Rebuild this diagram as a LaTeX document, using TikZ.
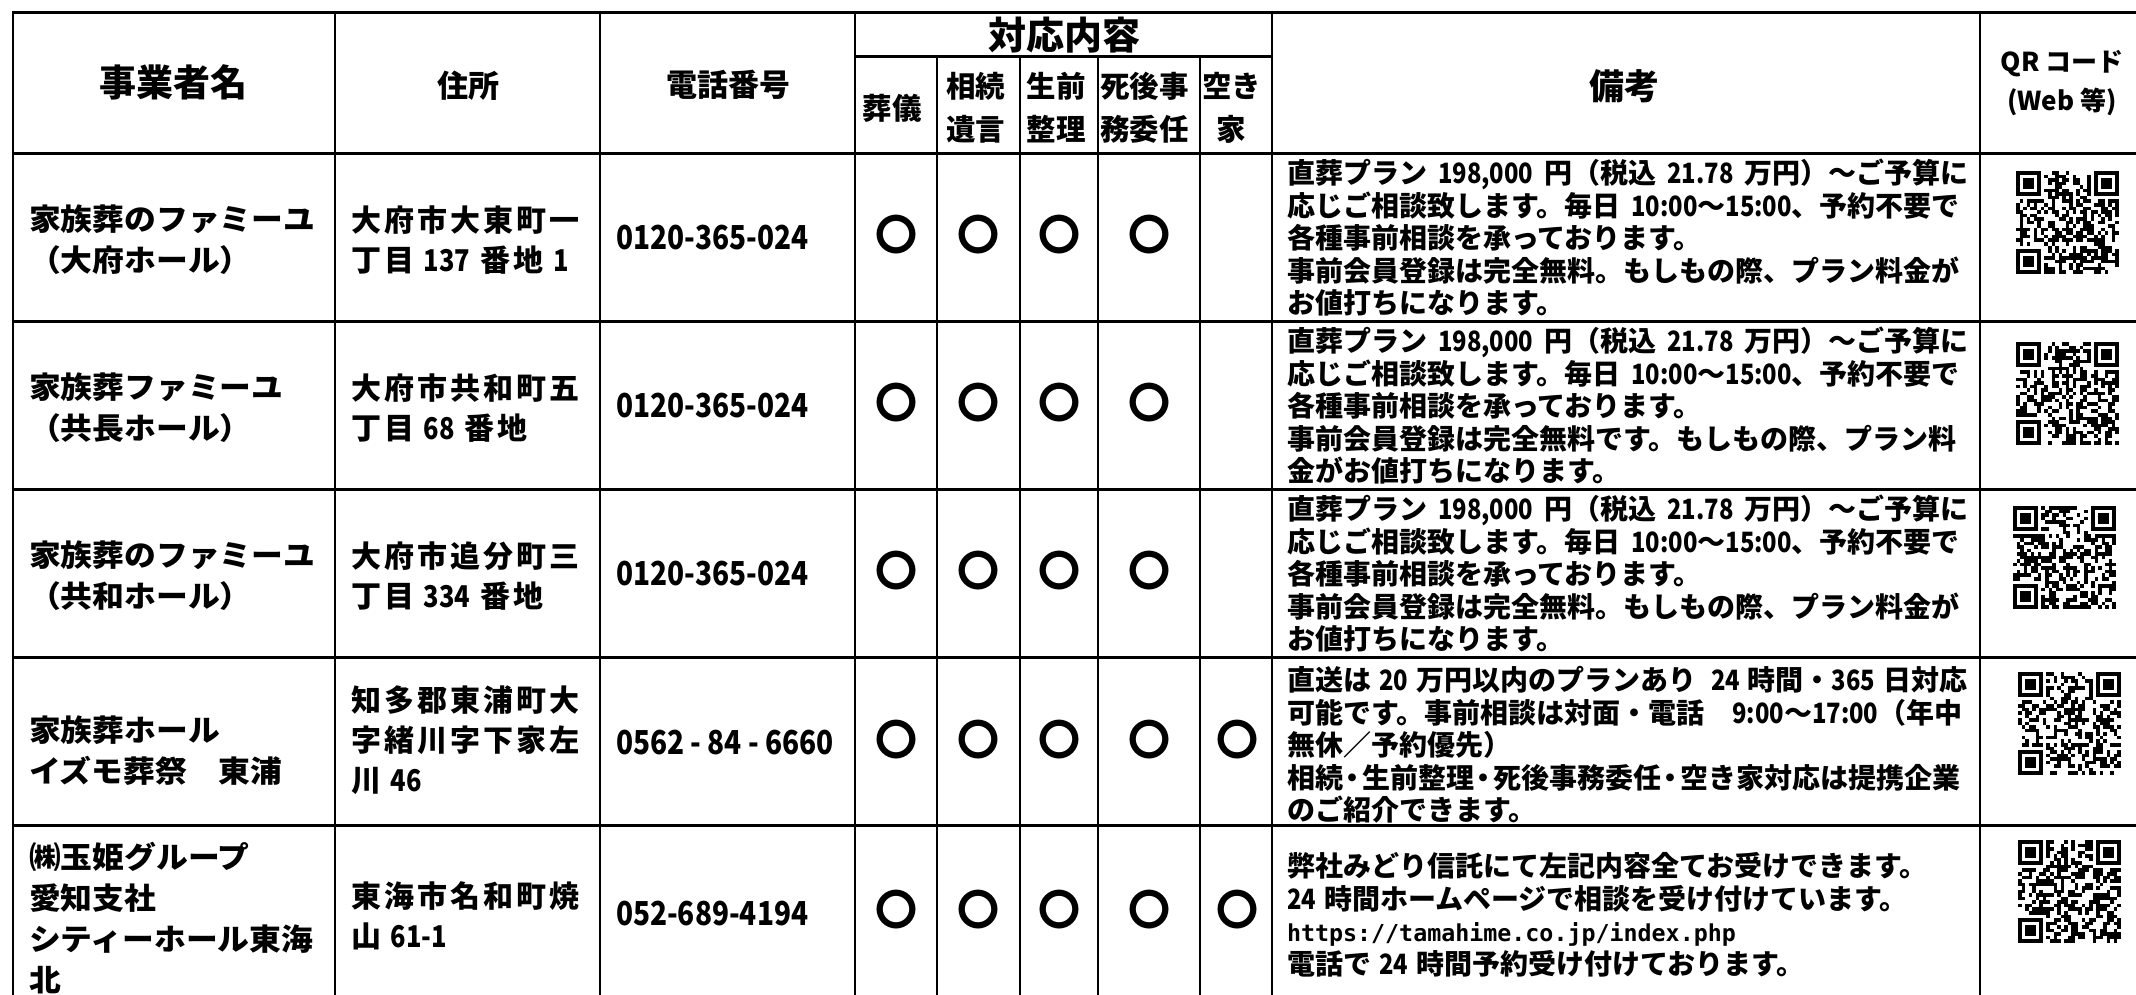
\documentclass[tikz,border=0pt]{standalone}
\usepackage{fontspec}
\setmainfont{Noto Sans CJK JP}
\newfontfamily\addrfont{Noto Sans CJK JP}[LetterSpace=10]
\newfontfamily\leftfont{Noto Sans CJK JP}[FakeStretch=1.06]
\newfontfamily\narrowfont{Noto Sans CJK JP}[FakeStretch=0.85]
\newfontfamily\telfont{Noto Sans CJK JP}[FakeStretch=0.85]
\newfontfamily\urlfont{DejaVu Sans Mono}
\newcommand\js{\rule[-0.12em]{0pt}{1em}}
\newcommand\nd[1]{{\narrowfont #1}}
\newcommand\gap{\hspace{11pt}}
\newcommand\sgap{\hspace{8pt}}
\newcommand\ndot{\makebox[19pt][c]{・}}
\newcommand\fLeft{\leftfont\fontsize{30}{41}\selectfont\bfseries}
\newcommand\fAddr{\addrfont\fontsize{30}{40}\selectfont\bfseries}
\newcommand\fTel{\telfont\fontsize{33}{40}\selectfont\bfseries}
\newcommand\fRem{\fontsize{28}{32.5}\selectfont\bfseries}
\newcommand\fCirc{\fontsize{42}{42}\selectfont\bfseries}
\newcommand\fUrl{\urlfont\fontsize{23.3}{32.5}\selectfont}
\newcommand\fSub{\fontsize{29.5}{43}\selectfont\bfseries}
\newcommand\myqr[3]{%
  \begin{scope}[shift={(#1,#2)}]
    \pgfmathsetseed{#3}
    \foreach \i in {0,...,28}{
      \foreach \j in {0,...,28}{
        \pgfmathrandominteger{\qrr}{0}{1}
        \ifnum\qrr=1\relax
          \fill (\i*3.55,\j*3.55) rectangle ++(3.55,3.55);
        \fi
      }
    }
    \foreach \fx/\fy/\wx/\wy in {0/0/0/0, 22/0/21/0, 0/22/0/21}{
      \fill[white] (\wx*3.55,\wy*3.55) rectangle ++(8*3.55,8*3.55);
      \fill (\fx*3.55,\fy*3.55) rectangle ++(7*3.55,7*3.55);
      \fill[white] (\fx*3.55+3.55,\fy*3.55+3.55) rectangle ++(5*3.55,5*3.55);
      \fill (\fx*3.55+7.1,\fy*3.55+7.1) rectangle ++(3*3.55,3*3.55);
    }
  \end{scope}
}
\begin{document}
\begin{tikzpicture}[x=1pt,y=-1pt,
  every node/.style={inner sep=0pt, outer sep=0pt},
  hline/.style={line width=3pt},
  vline/.style={line width=2.4pt},
  cell/.style={anchor=west, align=left, font=#1},
  ctr/.style={anchor=center, align=center, font=#1},
  circ/.style={anchor=center, font=\fCirc}]
\useasboundingbox (0,0) rectangle (2136,994);
\fill[white] (0,0) rectangle (2136,994);

% grid
\foreach \y in {12,153,321,489,657.5,825.5}
  \draw[hline] (11.8,\y) -- (2140,\y);
\draw[hline] (855,56) -- (1272,56);
\foreach \x in {13,335,600,855,1272,1980}
  \draw[vline] (\x,10.5) -- (\x,1000);
\foreach \x in {937,1020,1098,1200}
  \draw[vline] (\x,56) -- (\x,1000);

% headers
\node[ctr=\fontsize{37}{40}\selectfont\bfseries] (hName) at (173,82.5) {事業者名};
\node[ctr=\fontsize{31}{40}\selectfont\bfseries] (hAddr) at (468,86) {住所};
\node[ctr=\fontsize{31}{40}\selectfont\bfseries] (hTel) at (728,84.5) {電話番号};
\node[ctr=\fontsize{38}{40}\selectfont\bfseries] (hTaio) at (1064,35) {対応内容};
\node[ctr=\fSub] (hS1) at (892,108) {葬儀};
\node[ctr=\fSub] (hS2) at (975.5,107.5) {\js 相続\\\js 遺言};
\node[ctr=\fSub] (hS3) at (1056,107.5) {\js 生前\\\js 整理};
\node[ctr=\fSub] (hS4) at (1144.5,107.5) {\js 死後事\\\js 務委任};
\node[ctr=\fSub] (hS5) at (1231.5,107.5) {\js 空き\\\js 家};
\node[ctr=\fontsize{35}{40}\selectfont\bfseries] (hBiko) at (1624,86) {備考};
\node[ctr=\fontsize{26}{39}\selectfont\bfseries] (hQR) at (2062,82) {\js QR コード\\\js (Web 等)};

% row 1
\node[cell=\fLeft] (n1) at (29,240) {\js 家族葬のファミーユ\\\js （大府ホール）};
\node[cell=\fAddr] (a1) at (351,240) {\js 大府市大東町一\\\js 丁目 \nd{137} 番地 \nd{1}};
\node[cell=\fTel] (t1) at (616,238) {0120-365-024};
\node[circ] (c11) at (896,235) {〇};
\node[circ] (c12) at (978.5,235) {〇};
\node[circ] (c13) at (1059,235) {〇};
\node[circ] (c14) at (1149,235) {〇};
\node[cell=\fRem] (r1) at (1287,238) {\js 直葬プラン\gap\nd{198,000}\gap 円（税込\gap\nd{21.78}\gap 万円）～ご予算に\\
\js 応じご相談致します。毎日\gap\nd{10:00}～\nd{15:00}、予約不要で\\
\js 各種事前相談を承っております。\\
\js 事前会員登録は完全無料。もしもの際、プラン料金が\\
\js お値打ちになります。};
\myqr{2016}{171}{11}

% row 2
\node[cell=\fLeft] (n2) at (29,408) {\js 家族葬ファミーユ\\\js （共長ホール）};
\node[cell=\fAddr] (a2) at (351,408) {\js 大府市共和町五\\\js 丁目 \nd{68} 番地};
\node[cell=\fTel] (t2) at (616,406) {0120-365-024};
\node[circ] (c21) at (896,403) {〇};
\node[circ] (c22) at (978.5,403) {〇};
\node[circ] (c23) at (1059,403) {〇};
\node[circ] (c24) at (1149,403) {〇};
\node[cell=\fRem] (r2) at (1287,406) {\js 直葬プラン\gap\nd{198,000}\gap 円（税込\gap\nd{21.78}\gap 万円）～ご予算に\\
\js 応じご相談致します。毎日\gap\nd{10:00}～\nd{15:00}、予約不要で\\
\js 各種事前相談を承っております。\\
\js 事前会員登録は完全無料です。もしもの際、プラン料\\
\js 金がお値打ちになります。};
\myqr{2016}{342}{23}

% row 3
\node[cell=\fLeft] (n3) at (29,576) {\js 家族葬のファミーユ\\\js （共和ホール）};
\node[cell=\fAddr] (a3) at (351,576) {\js 大府市追分町三\\\js 丁目 \nd{334} 番地};
\node[cell=\fTel] (t3) at (616,574) {0120-365-024};
\node[circ] (c31) at (896,571) {〇};
\node[circ] (c32) at (978.5,571) {〇};
\node[circ] (c33) at (1059,571) {〇};
\node[circ] (c34) at (1149,571) {〇};
\node[cell=\fRem] (r3) at (1287,574) {\js 直葬プラン\gap\nd{198,000}\gap 円（税込\gap\nd{21.78}\gap 万円）～ご予算に\\
\js 応じご相談致します。毎日\gap\nd{10:00}～\nd{15:00}、予約不要で\\
\js 各種事前相談を承っております。\\
\js 事前会員登録は完全無料。もしもの際、プラン料金が\\
\js お値打ちになります。};
\myqr{2013}{506}{37}

% row 4
\node[cell=\fLeft] (n4) at (29,751) {\js 家族葬ホール\\\js イズモ葬祭　東浦};
\node[cell=\fAddr] (a4) at (351,740) {\js 知多郡東浦町大\\\js 字緒川字下家左\\\js 川 \nd{46}};
\node[cell=\fTel] (t4) at (616,742.5) {0562 - 84 - 6660};
\node[circ] (c41) at (896,739.5) {〇};
\node[circ] (c42) at (978.5,739.5) {〇};
\node[circ] (c43) at (1059,739.5) {〇};
\node[circ] (c44) at (1149,739.5) {〇};
\node[circ] (c45) at (1237,739.5) {〇};
\node[cell=\fRem] (r4) at (1287,745) {\js 直送は\sgap\nd{20}\sgap 万円以内のプランあり\hspace{15pt}\nd{24}\sgap 時間・\nd{365}\sgap 日対応\\
\js 可能です。事前相談は対面・電話　\nd{9:00}～\nd{17:00}（年中\\
\js 無休／予約優先）\\
\js 相続\ndot 生前整理\ndot 死後事務委任\ndot 空き家対応は提携企業\\
\js のご紹介できます。};
\myqr{2018}{672}{41}

% row 5
\node[cell=\fLeft] (n5) at (29,919) {\js ㈱玉姫グループ\\\js 愛知支社\\\js シティーホール東海\\\js 北};
\node[cell=\fAddr] (a5) at (351,916) {\js 東海市名和町焼\\\js 山 \nd{61-1}};
\node[cell=\fTel] (t5) at (616,914) {052-689-4194};
\node[circ] (c51) at (896,909.5) {〇};
\node[circ] (c52) at (978.5,909.5) {〇};
\node[circ] (c53) at (1059,909.5) {〇};
\node[circ] (c54) at (1149,909.5) {〇};
\node[circ] (c55) at (1237,909.5) {〇};
\node[cell=\fRem] (r5) at (1287,915) {\js 弊社みどり信託にて左記内容全てお受けできます。\\
\js \nd{24}\sgap 時間ホームページで相談を受け付けています。\\
\js {\fUrl https://tamahime.co.jp/index.php}\\
\js 電話で\sgap\nd{24}\sgap 時間予約受け付けております。};
\myqr{2018}{840}{59}
\end{tikzpicture}
\end{document}
